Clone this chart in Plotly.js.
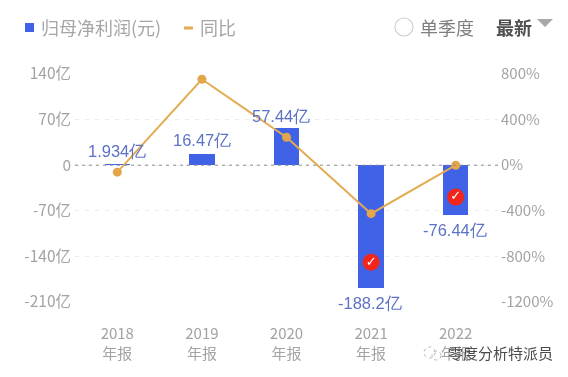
<!DOCTYPE html>
<html><head><meta charset="utf-8">
<script src="https://cdn.plot.ly/plotly-3.0.1.min.js"></script>
<style>html,body{margin:0;padding:0;background:#fff}#c{width:568px;height:377px;filter:blur(0.45px)}</style>
</head><body><div id="c"></div>
<script>
const categories=['2018','2019','2020','2021','2022'];
const tickLabels=['2018<br>年报','2019<br>年报','2020<br>年报','2021<br>年报','2022<br>年报'];
const profit=[1.934,16.47,57.44,-188.2,-76.44];
const profitLabels=['1.934亿','16.47亿','57.44亿','-188.2亿','-76.44亿'];
const yoy=[-61,754,245,-425,0];
const flagCats=['2021','2022'];
const flagVals=[-149,-49];
const leftTicks=[140,70,0,-70,-140,-210];
const leftLabels=['140亿','70亿','0','-70亿','-140亿','-210亿'];
const rightTicks=[800,400,0,-400,-800,-1200];
const rightLabels=['800%','400%','0%','-400%','-800%','-1200%'];
const labelShiftX=[0,0,-6,-1,-1];
const labelShiftY=[13,14,12,-15,-15];

const W=568,H=377,L=75,R=498,T=74,B=302;
const px=x=>(x-L)/(R-L), py=y=>(B-y)/(B-T);
const CJK='"Noto Sans CJK SC","Noto Sans",sans-serif';
const grey='#a3a3a3';
const note=(x,y,text,color,size,anchor,extra)=>Object.assign({xref:'paper',yref:'paper',x:px(x),y:py(y),text,showarrow:false,xanchor:anchor||'left',yanchor:'middle',xshift:-1,font:{family:CJK,size,color}},extra||{});

const annotations=[
 note(40,27,'归母净利润(元)','#a6a6a6',18),
 note(199,27,'同比','#a6a6a6',18),
 note(419,27,'单季度','#7f7f7f',18),
 note(495,27,'<b>最新</b>','#505050',18),
 note(447,352,'零度分析特派员','#4a4a4a',15)
];
categories.forEach((c,i)=>annotations.push({xref:'x',yref:'y',x:i,y:profit[i],text:profitLabels[i],showarrow:false,xshift:labelShiftX[i],yshift:labelShiftY[i],font:{family:'Liberation Sans, Arial, sans-serif',size:16.5,color:'#5c72c6'}}));

const shapes=[
 {type:'line',xref:'paper',yref:'y',x0:0,x1:1,y0:0,y1:0,line:{color:'#8c8c8c',width:1,dash:'3px,4px'},layer:'above'},
 {type:'rect',xref:'paper',yref:'paper',x0:px(25),x1:px(34),y0:py(32),y1:py(23),fillcolor:'#3f62e6',line:{width:0}},
 {type:'rect',xref:'paper',yref:'paper',x0:px(184),x1:px(193),y0:py(29.5),y1:py(26.5),fillcolor:'#e3ab52',line:{width:0}},
 {type:'circle',xref:'paper',yref:'paper',x0:px(395),x1:px(413),y0:py(36),y1:py(18),line:{color:'#cfcfcf',width:1.2},fillcolor:'#fff'},
 {type:'circle',xref:'paper',yref:'paper',x0:px(424),x1:px(435),y0:py(358),y1:py(347),line:{color:'#b5b5b5',width:1,dash:'dot'}},
 {type:'circle',xref:'paper',yref:'paper',x0:px(432),x1:px(441),y0:py(360),y1:py(351),line:{color:'#b5b5b5',width:1,dash:'dot'}},
 {type:'path',xref:'paper',yref:'paper',path:`M ${px(537)} ${py(19)} L ${px(553)} ${py(19)} L ${px(545)} ${py(27)} Z`,fillcolor:'#a8a8a8',line:{width:0}}
];

Plotly.newPlot('c',[
 {type:'bar',x:categories,y:profit,width:0.3,marker:{color:'#3f62e6'},yaxis:'y',hoverinfo:'skip'},
 {type:'scatter',mode:'lines+markers',x:categories,y:yoy,yaxis:'y2',line:{color:'#e3ab52',width:2},marker:{color:'#e3a64c',size:9},hoverinfo:'skip'},
 {type:'scatter',mode:'markers+text',x:flagCats,y:flagVals,yaxis:'y',marker:{color:'#f0261c',size:17},text:['<b>✓</b>','<b>✓</b>'],textposition:'middle center',textfont:{family:'DejaVu Sans',size:13,color:'#fff'},hoverinfo:'skip'}
],{
 width:W,height:H,showlegend:false,paper_bgcolor:'#fff',plot_bgcolor:'#fff',
 margin:{l:L,r:W-R,t:T,b:H-B},bargap:0,
 xaxis:{type:'category',categoryorder:'array',categoryarray:categories,range:[-0.5,4.5],tickmode:'array',tickvals:categories.map((c,i)=>i),ticktext:tickLabels,tickangle:0,showgrid:false,zeroline:false,showline:false,ticks:'',ticklabelstandoff:21,tickfont:{family:CJK,size:15,color:grey}},
 yaxis:{range:[-210,140],tickvals:leftTicks,ticktext:leftLabels,showgrid:true,griddash:'4px,6px',gridcolor:'#ececec',gridwidth:1,zeroline:false,showline:false,ticks:'',ticklabelstandoff:3,tickfont:{family:CJK,size:15.5,color:grey}},
 yaxis2:{range:[-1200,800],overlaying:'y',side:'right',tickvals:rightTicks,ticktext:rightLabels,showgrid:false,zeroline:false,showline:false,ticks:'',ticklabelstandoff:2,tickfont:{family:CJK,size:15,color:grey}},
 annotations,shapes
},{displayModeBar:false,staticPlot:true});
</script></body></html>
